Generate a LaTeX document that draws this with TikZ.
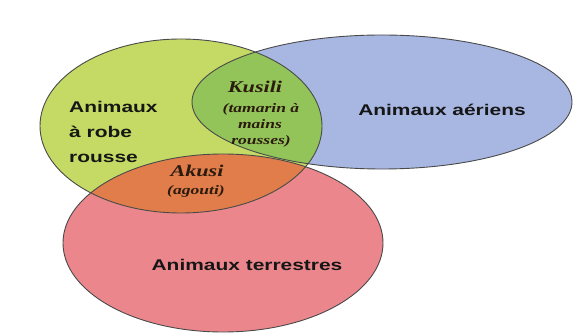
\documentclass[tikz,border=0pt]{standalone}
\usepackage{fontspec}
\newfontfamily\labsans{Liberation Sans}[FakeStretch=1.35]
\newfontfamily\labserif{Liberation Serif}[FakeStretch=1.35]
\definecolor{cyellow}{HTML}{C4DA64}
\definecolor{cblue}{HTML}{A8B7E2}
\definecolor{cpink}{HTML}{EB878C}
\definecolor{cgreen}{HTML}{93C45A}
\definecolor{corange}{HTML}{E07D4B}
\definecolor{cline}{HTML}{4A4A4A}
\definecolor{ctext}{HTML}{161616}
\definecolor{cserif}{HTML}{2B1A0E}
\tikzset{
  setlab/.style={font=\labsans\bfseries\fontsize{15.5}{24}\selectfont, text=ctext, inner sep=0pt},
  sublab/.style={font=\labserif\bfseries\itshape\fontsize{13}{16}\selectfont, text=cserif, inner sep=0pt},
  namelab/.style={font=\labserif\bfseries\itshape\fontsize{16.4}{18}\selectfont, text=cserif, inner sep=0pt},
  outline/.style={draw=cline, line width=0.9pt}
}
\begin{document}
\begin{tikzpicture}[x=1pt,y=-1pt]
\useasboundingbox (0,0) rectangle (575,336);
\fill[white] (0,0) rectangle (575,336);
% set shapes
\def\ellY{(181,126) ellipse [x radius=141, y radius=87]}
\def\ellB{(382,102) ellipse [x radius=190, y radius=67]}
\def\ellP{(223,243) ellipse [x radius=160, y radius=89]}
\fill[cblue] \ellB;
\fill[cpink] \ellP;
\fill[cyellow] \ellY;
\begin{scope}
  \clip \ellY;
  \fill[cgreen] \ellB;
  \fill[corange] \ellP;
\end{scope}
\draw[outline] \ellB;
\draw[outline] \ellP;
\draw[outline] \ellY;
% labels
\node[setlab, anchor=base west] (r1) at (69,113) {Animaux};
\node[setlab, anchor=base west] (r2) at (69,138) {à robe};
\node[setlab, anchor=base west] (r3) at (69,163) {rousse};
\node[setlab, anchor=base] (air) at (442,116) {Animaux aériens};
\node[setlab, anchor=base] (ter) at (247,271) {Animaux terrestres};
\node[namelab, anchor=base] (kus) at (255,93) {Kusili};
\node[sublab, anchor=base] (k1) at (261,113) {(tamarin à};
\node[sublab, anchor=base] (k2) at (260,129) {mains};
\node[sublab, anchor=base] (k3) at (261,145) {rousses)};
\node[namelab, anchor=base] (aku) at (197,177) {Akusi};
\node[sublab, anchor=base] (ag) at (196,195) {(agouti)};
\end{tikzpicture}
\end{document}
